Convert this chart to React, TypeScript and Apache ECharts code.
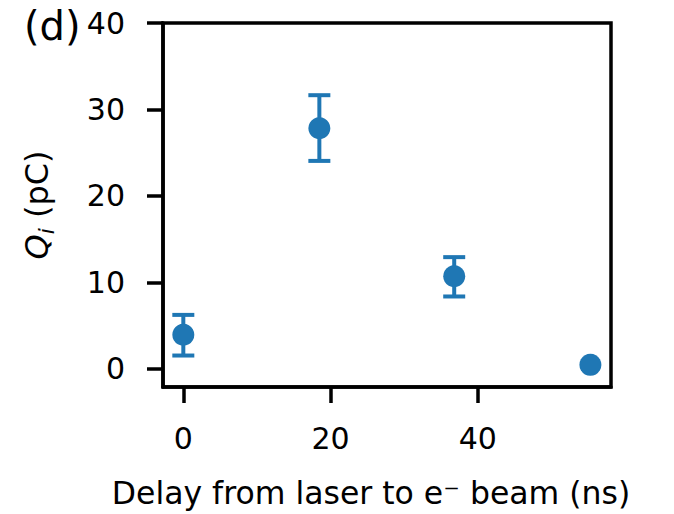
import React, { useEffect, useRef } from "react";
import * as echarts from "echarts";

const delays = [0, 18.48, 36.8, 55.3];
const charge = [3.95, 27.83, 10.71, 0.46];
const errLow = [1.54, 24.05, 8.37, null];
const errHigh = [6.24, 31.65, 12.92, null];
const xTicks = [0, 20, 40];
const yTicks = [0, 10, 20, 30, 40];

const BLUE = "#1f77b4";
const FONT = "DejaVu Sans";
const FS = 30;

export default function App() {
  const ref = useRef<HTMLDivElement>(null);
  useEffect(() => {
    if (!ref.current) return;
    const chart = echarts.init(ref.current, null, { renderer: "svg" });
    const points = delays.map((d, i) => [d, charge[i]]);
    const errData: number[][] = [];
    delays.forEach((d, i) => {
      if (errLow[i] != null && errHigh[i] != null) errData.push([d, errLow[i] as number, errHigh[i] as number]);
    });
    const axisLine = { show: true, onZero: false, lineStyle: { color: "#000", width: 3.5 } };
    chart.setOption({
      animation: false,
      backgroundColor: "#fff",
      grid: {
        left: 163,
        right: 63,
        top: 23,
        bottom: 125,
        show: true,
        borderColor: "#000",
        borderWidth: 3.5,
        containLabel: false,
      },
      graphic: [
        {
          type: "text",
          left: 24,
          top: 6,
          style: { text: "(d)", fontSize: 40, fontFamily: FONT, fill: "#000" },
        },
      ],
      xAxis: {
        type: "value",
        min: -2.76,
        max: 58.1,
        axisLine,
        splitLine: { show: false },
        axisTick: { show: true, length: 16, inside: false, customValues: xTicks, lineStyle: { width: 3.5, color: "#000" } },
        axisLabel: { customValues: xTicks, margin: 36, fontSize: FS, fontFamily: FONT, color: "#000" },
        name: "Delay from laser to e\u207B beam (ns)",
        nameLocation: "middle",
        nameGap: 90,
        nameTextStyle: { fontSize: 31.5, fontFamily: FONT, color: "#000", padding: [0, 32, 0, 0] },
      },
      yAxis: {
        type: "value",
        min: -2.1,
        max: 40,
        axisLine,
        splitLine: { show: false },
        axisTick: { show: true, length: 16, inside: false, customValues: yTicks, lineStyle: { width: 3.5, color: "#000" } },
        axisLabel: { customValues: yTicks, margin: 38, fontSize: FS, fontFamily: FONT, color: "#000" },
        name: "{q|Q}{s|i} (pC)",
        nameLocation: "middle",
        nameGap: 106,
        nameRotate: 90,
        nameTextStyle: {
          fontSize: 32,
          fontFamily: FONT,
          color: "#000",
          rich: {
            q: { fontSize: 32, fontFamily: FONT, fontStyle: "italic", color: "#000" },
            s: { fontSize: 22, fontFamily: FONT, fontStyle: "italic", color: "#000", padding: [18, 0, 0, 0] },
          },
        },
      },
      series: [
        {
          type: "custom",
          data: errData,
          z: 2,
          renderItem: (params: any, api: any) => {
            const x = api.value(0);
            const lo = api.coord([x, api.value(1)]);
            const hi = api.coord([x, api.value(2)]);
            const half = 11;
            const st = { stroke: BLUE, lineWidth: 4 };
            return {
              type: "group",
              children: [
                { type: "line", shape: { x1: lo[0], y1: lo[1], x2: hi[0], y2: hi[1] }, style: st },
                { type: "line", shape: { x1: lo[0] - half, y1: lo[1], x2: lo[0] + half, y2: lo[1] }, style: st },
                { type: "line", shape: { x1: hi[0] - half, y1: hi[1], x2: hi[0] + half, y2: hi[1] }, style: st },
              ],
            };
          },
        },
        {
          type: "scatter",
          data: points,
          symbol: "circle",
          symbolSize: 22,
          itemStyle: { color: BLUE, opacity: 1 },
          z: 3,
        },
      ],
    });
    return () => chart.dispose();
  }, []);
  return <div ref={ref} style={{ width: 674, height: 514, position: "absolute", left: 0, top: 0 }} />;
}
